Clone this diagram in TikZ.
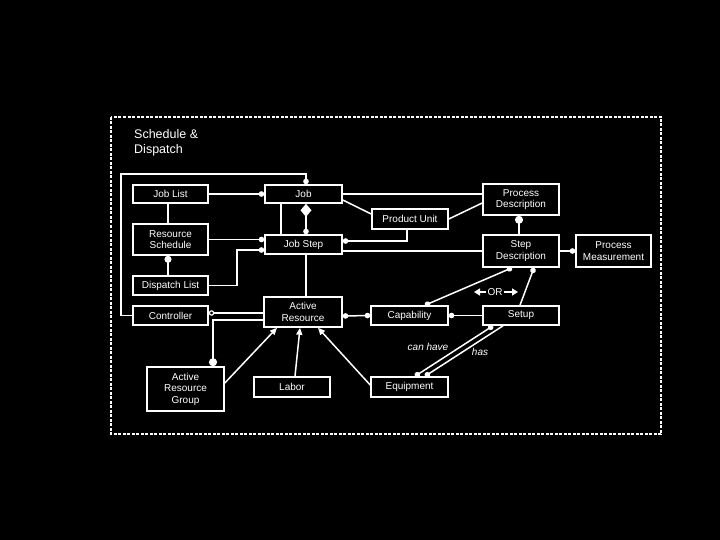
\documentclass[tikz,border=0pt]{standalone}
\usepackage{fontspec}
\setmainfont{Liberation Sans}
\usetikzlibrary{arrows.meta,calc}
\tikzset{
  sdot/.tip={Circle[length=5.5pt]},
  bdot/.tip={Circle[length=8pt]},
  odot/.tip={Circle[open,length=5.5pt,line width=1.2pt]},
  dia/.tip={Diamond[length=13pt,width=11pt]},
  tri/.tip={Triangle[length=7pt,width=6pt]},
  ortip/.tip={Triangle[length=6pt,width=7pt]},
  box/.style={draw=white,line width=1.6pt,fill=black,text=white,inner sep=0pt,
    font=\fontsize{10}{11.5}\selectfont,align=center},
  conn/.style={draw=white,line width=1.5pt},
  lbl/.style={text=white,inner sep=0pt,font=\fontsize{10}{12}\selectfont},
}
\begin{document}
\begin{tikzpicture}[x=1pt,y=-1pt]
\fill[black] (0,0) rectangle (720,540);
\useasboundingbox (0,0) rectangle (720,540);
% frame
\draw[white,line width=1.5pt,dash pattern=on 3pt off 1.5pt] (111,117) rectangle (661,434);
\node[anchor=north west,text=white,font=\fontsize{12.5}{15}\selectfont,align=left,inner sep=0pt] (title) at (134,129) {Schedule \&\\Dispatch};
% nodes
\node[box,minimum width=75pt,minimum height=18pt] (joblist) at (170.5,194) {Job List};
\node[box,minimum width=77pt,minimum height=18pt] (job) at (303.5,194) {Job};
\node[box,minimum width=75pt,minimum height=31pt] (ressched) at (170.5,239.5) {Resource\\Schedule};
\node[box,minimum width=77pt,minimum height=19pt] (jobstep) at (303.5,244.5) {Job Step};
\node[box,minimum width=75pt,minimum height=19pt] (displist) at (170.5,285.5) {Dispatch List};
\node[box,minimum width=75pt,minimum height=19pt] (controller) at (170.5,315.5) {Controller};
\node[box,minimum width=78pt,minimum height=30pt] (activeres) at (303,312) {Active\\Resource};
\node[box,minimum width=77pt,minimum height=44pt] (arg) at (185.5,389) {Active\\Resource\\Group};
\node[box,minimum width=76pt,minimum height=20pt] (labor) at (292,387) {Labor};
\node[box,minimum width=76pt,minimum height=20pt] (produnit) at (410,219) {Product Unit};
\node[box,minimum width=76pt,minimum height=31pt] (procdesc) at (521,199.5) {Process\\Description};
\node[box,minimum width=76pt,minimum height=32pt] (stepdesc) at (521,251) {Step\\Description};
\node[box,minimum width=75pt,minimum height=32pt] (procmeas) at (613.5,251) {Process\\Measurement};
\node[box,minimum width=77pt,minimum height=19pt] (capability) at (409.5,315.5) {Capability};
\node[box,minimum width=76pt,minimum height=19pt] (setup) at (521,315.5) {Setup};
\node[box,minimum width=77pt,minimum height=20pt] (equipment) at (409.5,387) {Equipment};
% connectors
\draw[conn,-sdot] (joblist.east) -- (job.west);
\draw[conn] ([xshift=-2.5pt]joblist.south) -- ([xshift=-2.5pt]ressched.north);
\draw[conn,-sdot] (controller.west) -- ++(-11,0) |- ($(job.north)+(2.5,-10)$) -- ([xshift=2.5pt]job.north);
\draw[conn,dia-sdot] ([xshift=2.5pt]job.south) -- ([xshift=2.5pt]jobstep.north);
\draw[conn] ([xshift=-22.5pt]job.south) -- ([xshift=-22.5pt]jobstep.north);
\draw[conn,-sdot] (ressched.east) -- (ressched.east -| jobstep.west);
\draw[conn,{Circle[length=7pt]}-] ([xshift=-2.5pt]ressched.south) -- ([xshift=-2.5pt]displist.north);
\draw[conn,-sdot] (displist.east) -| ($(jobstep.west)+(-27,5.5)$) -- ([yshift=-5.5pt]jobstep.west);
\draw[conn] (job.east) -- (job.east -| procdesc.west);
\draw[conn] ([yshift=-6pt]job.east) -- ([yshift=5pt]produnit.west);
\draw[conn] (produnit.east) -- ([yshift=-3.5pt]procdesc.west);
\draw[conn,-sdot] ([xshift=-3pt]produnit.south) |- ([yshift=3.5pt]jobstep.east);
\draw[conn] (stepdesc.west) -- (stepdesc.west -| jobstep.east);
\draw[conn] ([xshift=2.5pt]jobstep.south) -- ([xshift=3pt]activeres.north);
\draw[conn,bdot-] ([xshift=-2pt]procdesc.south) -- ([xshift=-2pt]stepdesc.north);
\draw[conn,-sdot] (stepdesc.east) -- (procmeas.west);
\draw[conn,sdot-sdot] ([xshift=-9pt]stepdesc.south) -- ([xshift=15.5pt]capability.north);
\draw[conn,sdot-] ([xshift=13pt]stepdesc.south) -- ([xshift=-1pt]setup.north);
\node[lbl] (or) at (495,292) {OR};
\coordinate (orl) at (474,292);
\coordinate (orr) at (518,292);
\draw[conn,-ortip] ([xshift=-1.5pt]or.west) -- (orl);
\draw[conn,-ortip] ([xshift=1.5pt]or.east) -- (orr);
\draw[conn,sdot-sdot] ([yshift=-4pt]activeres.east) -- (capability.west);
\draw[conn,sdot-] (capability.east) -- (setup.west);
\draw[conn,odot-] ([yshift=2.5pt]controller.east) -- ([yshift=2.5pt]controller.east -| activeres.west);
\draw[conn,-bdot] ([yshift=-8pt]activeres.west) -| ([xshift=27.5pt]arg.north);
\draw[conn,-tri] ([yshift=6pt]arg.east) -- ([xshift=-26pt]activeres.south);
\draw[conn,-tri] ([xshift=3pt]labor.north) -- ([xshift=-3pt]activeres.south);
\draw[conn,-tri] ([yshift=2pt]equipment.west) -- ([xshift=15pt]activeres.south);
\draw[conn,sdot-sdot] ([xshift=5.5pt]equipment.north) -- ([xshift=-28pt]setup.south);
\draw[conn,sdot-] ([xshift=15.5pt]equipment.north) -- ([xshift=-18pt]setup.south);
\node[lbl,font=\fontsize{10}{12}\selectfont\itshape] (canhave) at (428,347) {can have};
\node[lbl,font=\fontsize{10}{12}\selectfont\itshape] (has) at (480,352) {has};
\end{tikzpicture}
\end{document}
